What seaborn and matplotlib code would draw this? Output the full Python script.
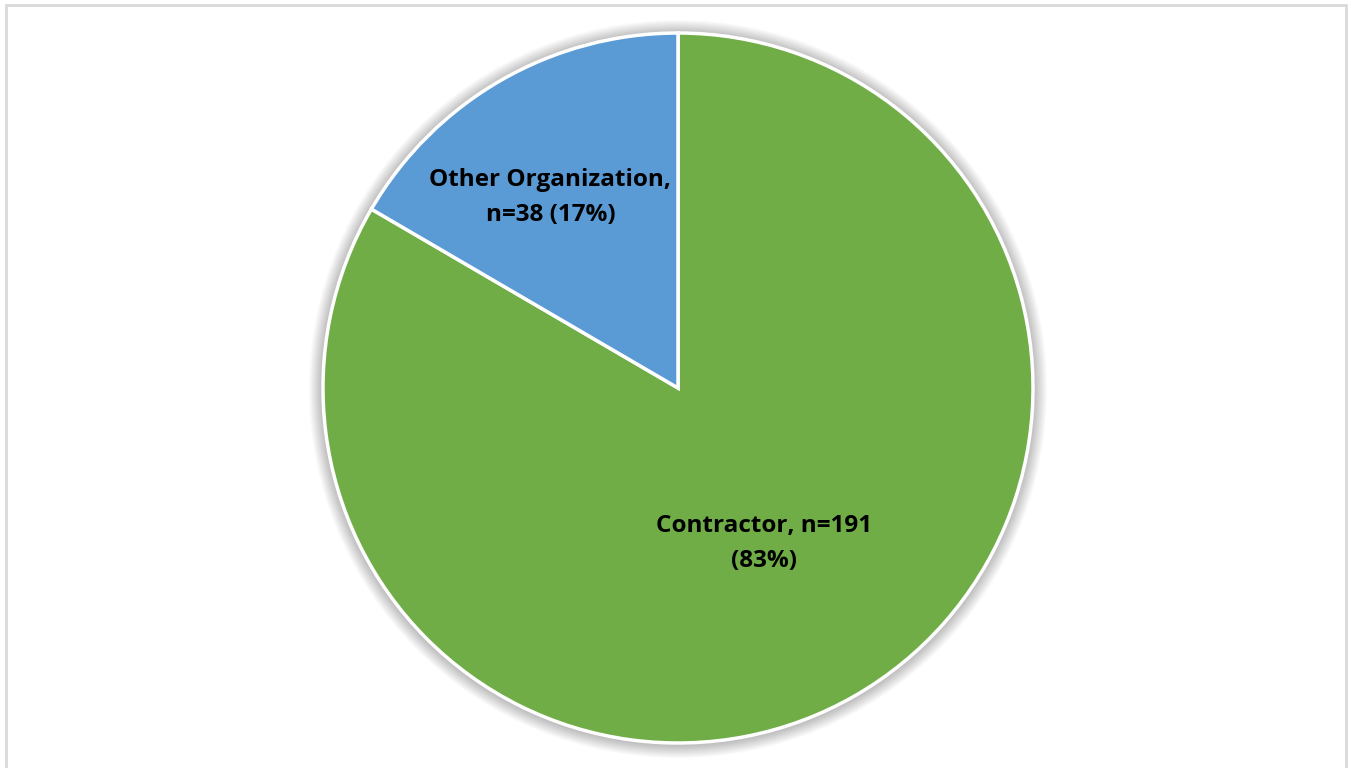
import numpy as np
import matplotlib
matplotlib.use("Agg")
import matplotlib.pyplot as plt
from matplotlib.patches import Circle, Rectangle
import seaborn as sns

# Respondents by organization type
categories = ["Contractor", "Other Organization"]
counts = [191, 38]
label_lines = ["Contractor, n=191\n(83%)", "Other Organization,\nn=38 (17%)"]

sns.set_theme(style="white")
plt.rcParams["font.family"] = ["Open Sans", "DejaVu Sans"]

colors = ["#70AD47", "#5B9BD5"]

W, H = 1351, 768
fig = plt.figure(figsize=(W / 100, H / 100), dpi=100)
ax = fig.add_axes([0, 0, 1, 1])

# light gray chart frame
frame = Rectangle((5.5, -10), W - 11, H - 4.5 + 10, fill=False,
                  edgecolor="#D9D9D9", linewidth=2.0, zorder=0)
ax.add_patch(frame)

cx, cy, r = 678, H - 388, 355

# soft drop shadow around the pie
for k in range(14):
    ax.add_patch(Circle((cx, cy - 1), r + 1 + k * 1.0, color="black",
                        alpha=0.02, linewidth=0, zorder=1))

wedges, _ = ax.pie(counts, colors=colors, startangle=90, counterclock=False,
                   radius=r, center=(cx, cy),
                   wedgeprops=dict(edgecolor="white", linewidth=2.5),
                   frame=True)
for w in wedges:
    w.set_zorder(2)
ax.set_xlim(0, W)
ax.set_ylim(0, H)
ax.set_axis_off()

# labels placed inside each wedge near its mid-angle
dists = [0.50, 0.645]
angle_shift = [-1.0, 4.0]
for w, text, d, da in zip(wedges, label_lines, dists, angle_shift):
    mid = np.deg2rad((w.theta1 + w.theta2) / 2 + da)
    x = cx + d * r * np.cos(mid)
    y = cy + d * r * np.sin(mid)
    ax.text(x, y, text, ha="center", va="center", fontsize=17.5,
            fontweight="bold", color="black", linespacing=1.6, zorder=3)

fig.savefig("out.png", dpi=100)
